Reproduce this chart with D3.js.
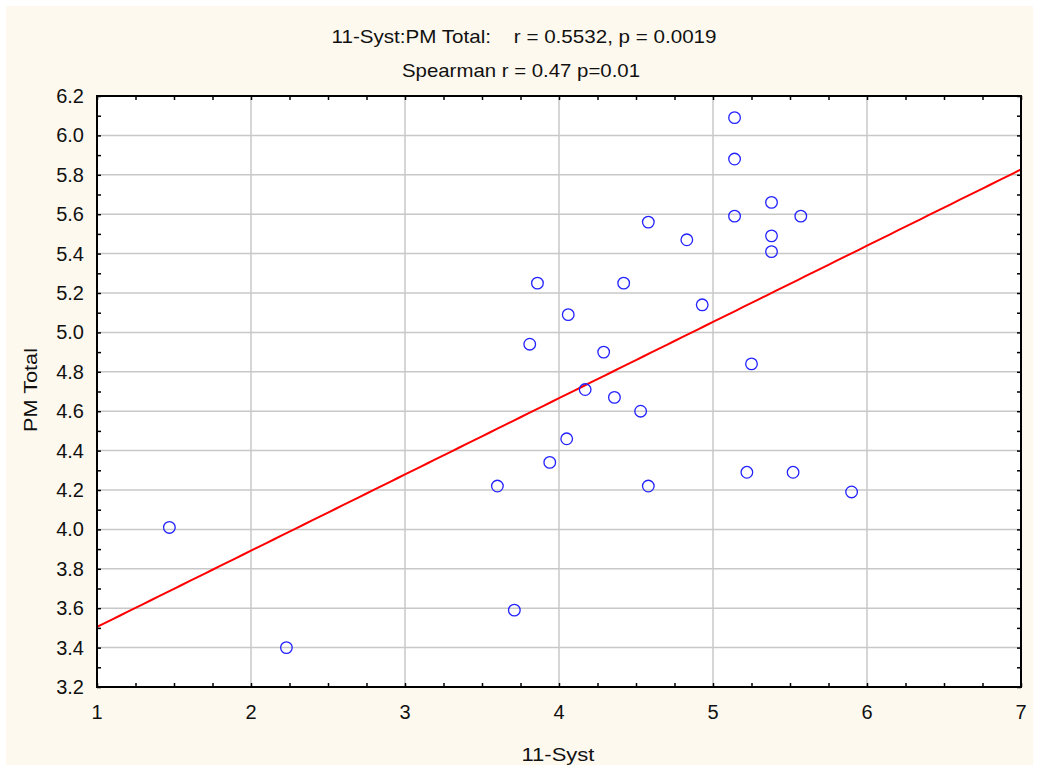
<!DOCTYPE html>
<html>
<head>
<meta charset="utf-8">
<script src="https://d3js.org/d3.v7.min.js"></script>
<style>
body { margin: 0; background: #fff; }
text { font-family: "Liberation Sans", Arial, sans-serif; fill: #111; }
</style>
</head>
<body>
<svg width="1037" height="771"></svg>
<script>
// values
var systVals = [1.47, 2.23, 3.71, 3.60, 3.94, 4.05, 3.81, 3.86, 4.06, 4.29,
                4.17, 4.36, 4.53, 4.42, 4.58, 4.58, 4.83, 5.14, 5.14, 5.14,
                5.38, 5.57, 5.38, 5.38, 4.93, 5.25, 5.22, 5.52, 5.90];
var pmVals   = [4.01, 3.40, 3.59, 4.22, 4.34, 4.46, 4.94, 5.25, 5.09, 4.90,
                4.71, 4.67, 4.60, 5.25, 4.22, 5.56, 5.47, 6.09, 5.88, 5.59,
                5.66, 5.59, 5.49, 5.41, 5.14, 4.84, 4.29, 4.29, 4.19];
var fitLine = [3.118, 0.387]; // intercept, slope
var xTicks = [1, 2, 3, 4, 5, 6, 7];
var yTicks = [3.2, 3.4, 3.6, 3.8, 4.0, 4.2, 4.4, 4.6, 4.8, 5.0, 5.2, 5.4, 5.6, 5.8, 6.0, 6.2];
var titleLines = ["11-Syst:PM Total:    r = 0.5532, p = 0.0019", "Spearman r = 0.47 p=0.01"];

var svg = d3.select("svg");
var pL = 97, pR = 1021, pT = 96, pB = 687;

var x = d3.scaleLinear().domain([1, 7]).range([pL, pR]);
var y = d3.scaleLinear().domain([3.2, 6.2]).range([pB, pT]);

// cream panel
svg.append("rect").attr("x", 6).attr("y", 6).attr("width", 1027).attr("height", 759)
  .attr("fill", "#fef9ef");
svg.append("rect").attr("x", pL).attr("y", pT).attr("width", pR - pL).attr("height", pB - pT)
  .attr("fill", "#fff");

// grid
svg.append("g").selectAll("line").data(xTicks.slice(1, -1)).join("line")
  .attr("x1", d => x(d)).attr("x2", d => x(d)).attr("y1", pT).attr("y2", pB)
  .attr("stroke", "#c8c8c8").attr("stroke-width", 1.5);
svg.append("g").selectAll("line").data(yTicks.slice(1, -1)).join("line")
  .attr("y1", d => y(d)).attr("y2", d => y(d)).attr("x1", pL).attr("x2", pR)
  .attr("stroke", "#c8c8c8").attr("stroke-width", 1.5);

// fit line
var fx = d3.range(1, 7.001, 0.05);
svg.append("clipPath").attr("id", "clip").append("rect")
  .attr("x", pL).attr("y", pT).attr("width", pR - pL).attr("height", pB - pT);
svg.append("path").datum(fx)
  .attr("clip-path", "url(#clip)")
  .attr("d", d3.line().x(d => x(d)).y(d => y(fitLine[0] + fitLine[1] * d)))
  .attr("fill", "none").attr("stroke", "#ff0000").attr("stroke-width", 2);

// points
svg.append("g").selectAll("circle").data(systVals).join("circle")
  .attr("cx", d => x(d)).attr("cy", (d, i) => y(pmVals[i]))
  .attr("r", 5.8).attr("fill", "none").attr("stroke", "#2222ff").attr("stroke-width", 1.3);

// axes (ticks pointing inward)
var xMinor = d3.range(1, 7.001, 0.25);
var yMinor = d3.range(3.2, 6.2001, 0.1);
svg.append("g").attr("transform", "translate(0," + pB + ")")
  .call(d3.axisTop(x).tickValues(xMinor).tickSize(4).tickFormat(""))
  .call(g => g.select(".domain").remove());
svg.append("g").attr("transform", "translate(0," + pT + ")")
  .call(d3.axisBottom(x).tickValues(xMinor).tickSize(4).tickFormat(""))
  .call(g => g.select(".domain").remove());
svg.append("g").attr("transform", "translate(" + pL + ",0)")
  .call(d3.axisRight(y).tickValues(yMinor).tickSize(4).tickFormat(""))
  .call(g => g.select(".domain").remove());
svg.append("g").attr("transform", "translate(" + pR + ",0)")
  .call(d3.axisLeft(y).tickValues(yMinor).tickSize(4).tickFormat(""))
  .call(g => g.select(".domain").remove());
svg.selectAll(".tick line").attr("stroke", "#000").attr("stroke-width", 1.5);

svg.append("rect").attr("x", pL).attr("y", pT).attr("width", pR - pL).attr("height", pB - pT)
  .attr("fill", "none").attr("stroke", "#000").attr("stroke-width", 2);

// tick labels
svg.append("g").selectAll("text").data(xTicks).join("text")
  .attr("x", d => x(d)).attr("y", 719).attr("text-anchor", "middle")
  .attr("font-size", 20).text(d => d);
svg.append("g").selectAll("text").data(yTicks).join("text")
  .attr("x", 84).attr("y", d => y(d) + 7).attr("text-anchor", "end")
  .attr("font-size", 20).text(d => d.toFixed(1));

// titles
svg.append("text").attr("x", 524).attr("y", 43).attr("text-anchor", "middle")
  .style("white-space", "pre")
  .attr("font-size", 19).attr("textLength", 385).attr("lengthAdjust", "spacingAndGlyphs")
  .text(titleLines[0]);
svg.append("text").attr("x", 521).attr("y", 76.5).attr("text-anchor", "middle")
  .attr("font-size", 19).attr("textLength", 238).attr("lengthAdjust", "spacingAndGlyphs")
  .text(titleLines[1]);
svg.append("text").attr("x", 558).attr("y", 761).attr("text-anchor", "middle")
  .attr("font-size", 19).attr("textLength", 73).attr("lengthAdjust", "spacingAndGlyphs")
  .text("11-Syst");
svg.append("text").attr("transform", "translate(37,390) rotate(-90)").attr("text-anchor", "middle")
  .attr("font-size", 19).attr("textLength", 84).attr("lengthAdjust", "spacingAndGlyphs")
  .text("PM Total");
</script>
</body>
</html>
